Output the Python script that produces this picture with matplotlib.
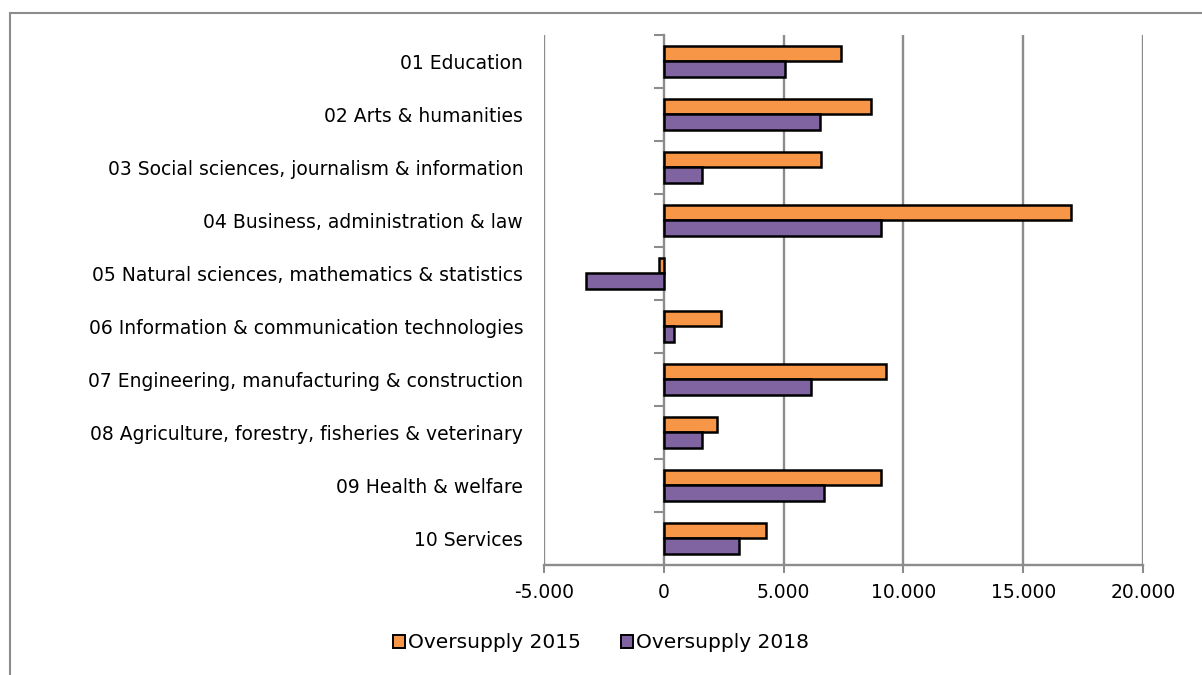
import matplotlib
matplotlib.use("Agg")
import matplotlib.pyplot as plt
import numpy as np
from matplotlib.ticker import FuncFormatter, FixedLocator
from matplotlib.patches import Rectangle, Patch

categories = [
    "01 Education",
    "02 Arts & humanities",
    "03 Social sciences, journalism & information",
    "04 Business, administration & law",
    "05 Natural sciences, mathematics & statistics",
    "06 Information & communication technologies",
    "07 Engineering, manufacturing & construction",
    "08 Agriculture, forestry, fisheries & veterinary",
    "09 Health & welfare",
    "10 Services",
]
oversupply_2015 = [7400, 8640, 6580, 17010, -190, 2400, 9270, 2220, 9070, 4270]
oversupply_2018 = [5060, 6500, 1600, 9070, -3230, 430, 6150, 1600, 6680, 3120]
series_labels = ["Oversupply 2015", "Oversupply 2018"]
xticks = [-5000, 0, 5000, 10000, 15000, 20000]

ORANGE = "#F79646"
PURPLE = "#8064A2"
GRID = "#8c8c8c"

plt.rcParams['font.family'] = 'DejaVu Sans'

fig = plt.figure(figsize=(12.02, 6.75), dpi=100)
ax = fig.add_axes([544 / 1202, 1 - 565 / 675, (1143 - 544) / 1202, (565 - 35) / 675])

y = np.arange(len(categories))
h = 0.29
ax.barh(y - h / 2 + 0.0, oversupply_2015, height=h, color=ORANGE,
        edgecolor="black", linewidth=1.8, zorder=3)
ax.barh(y + h / 2 + 0.0, oversupply_2018, height=h, color=PURPLE,
        edgecolor="black", linewidth=1.8, zorder=3)

ax.set_xlim(-5000, 20000)
ax.set_ylim(len(categories) - 0.5, -0.5)

ax.xaxis.set_major_locator(FixedLocator(xticks))
ax.xaxis.set_major_formatter(FuncFormatter(lambda v, p: f"{v:,.0f}".replace(",", ".")))
ax.tick_params(axis="x", direction="out", length=6, width=1.5, color=GRID,
               labelsize=13.5, pad=7)
for v in xticks:
    if v != 0:
        ax.axvline(v, color=GRID, lw=1.7, zorder=1)

ax.set_yticks(y)
ax.set_yticklabels(categories)
ax.tick_params(axis="y", length=0, labelsize=13.5, pad=15)

for s in ["top", "right", "left"]:
    ax.spines[s].set_visible(False)
ax.spines["bottom"].set_color(GRID)
ax.spines["bottom"].set_linewidth(1.7)

# category axis crossing at zero
sec = ax.secondary_yaxis(0.2)
sec.set_yticks(np.arange(-0.5, len(categories), 1.0))
sec.set_yticklabels([])
sec.tick_params(direction="out", length=7, width=1.5, color=GRID)
sec.spines["left"].set_color(GRID)
sec.spines["left"].set_linewidth(1.7)

handles = [Patch(facecolor=ORANGE, edgecolor="black", linewidth=1.4),
           Patch(facecolor=PURPLE, edgecolor="black", linewidth=1.4)]
fig.legend(handles, series_labels, loc="center", bbox_to_anchor=(0.5, 1 - 643 / 675),
           ncol=2, frameon=False, fontsize=14.5, handlelength=0.6, handleheight=0.6,
           handletextpad=0.15, columnspacing=2.0)

# outer chart frame
fig.patches.append(Rectangle((10 / 1202, -0.05), 1.2, 1 - 13 / 675 + 0.05,
                             transform=fig.transFigure, fill=False,
                             edgecolor=GRID, linewidth=1.5))

fig.savefig("out.png", dpi=100)
